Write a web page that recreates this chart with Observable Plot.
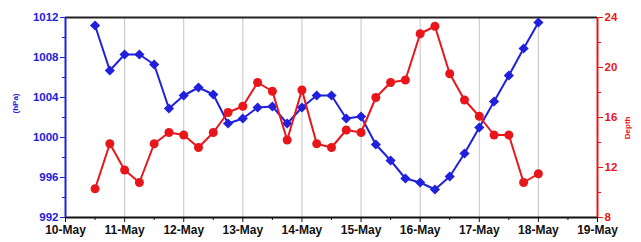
<!DOCTYPE html>
<html>
<head>
<meta charset="utf-8">
<script src="https://cdn.jsdelivr.net/npm/d3@7"></script>
<script src="https://cdn.jsdelivr.net/npm/@observablehq/plot@0.6"></script>
<style>
  html, body { margin: 0; padding: 0; background: #fff; }
  #chart { width: 641px; height: 242px; }
  #chart svg text { font-weight: bold; }
</style>
</head>
<body>
<div id="chart"></div>
<script>
// Time in days of May (6-hourly)
const times = [10.5, 10.75, 11, 11.25, 11.5, 11.75, 12, 12.25, 12.5, 12.75,
               13, 13.25, 13.5, 13.75, 14, 14.25, 14.5, 14.75, 15, 15.25,
               15.5, 15.75, 16, 16.25, 16.5, 16.75, 17, 17.25, 17.5, 17.75, 18];
// Pressure (hPa), left axis
const pressure = [1011.2, 1006.7, 1008.3, 1008.3, 1007.3, 1002.9, 1004.2, 1005.0, 1004.3, 1001.4,
                  1001.9, 1003.0, 1003.1, 1001.4, 1003.0, 1004.2, 1004.2, 1001.9, 1002.1, 999.3,
                  997.7, 995.9, 995.5, 994.8, 996.1, 998.4, 1001.0, 1003.6, 1006.2, 1008.9, 1011.5];
// Depth, right axis
const depth = [10.3, 13.9, 11.8, 10.8, 13.9, 14.8, 14.6, 13.6, 14.8, 16.4,
               16.9, 18.8, 18.1, 14.2, 18.2, 13.9, 13.6, 15.0, 14.8, 17.6,
               18.8, 19.0, 22.7, 23.3, 19.5, 17.4, 16.1, 14.6, 14.6, 10.8, 11.5];
// Axis ticks
const dayTicks = [10, 11, 12, 13, 14, 15, 16, 17, 18, 19];
const dayLabels = ["10-May", "11-May", "12-May", "13-May", "14-May", "15-May", "16-May", "17-May", "18-May", "19-May"];
const pressureTicks = [992, 996, 1000, 1004, 1008, 1012];
const depthTicks = [8, 12, 16, 20, 24];

const BLUE = "#2020dd";
const RED = "#e8161b";
const pMin = 992, pMax = 1012, dMin = 8, dMax = 24;
// map depth onto the pressure scale (shared y)
const d2p = d => pMin + (d - dMin) * (pMax - pMin) / (dMax - dMin);
const p2d = p => dMin + (p - pMin) * (dMax - dMin) / (pMax - pMin);

const pData = times.map((t, i) => ({t, v: pressure[i]}));
const dData = times.map((t, i) => ({t, v: d2p(depth[i])}));

const halfDays = dayTicks.slice(0, -1).map(d => d + 0.5);
const minorP = pressureTicks.slice(0, -1).map(p => p + 2);
const minorD = depthTicks.slice(0, -1).map(d => d2p(d + 2));

const chart = Plot.plot({
  width: 641,
  height: 242,
  marginLeft: 65,
  marginRight: 44,
  marginTop: 17,
  marginBottom: 25,
  style: {fontFamily: "'Liberation Sans', Arial, sans-serif", fontSize: "11px", fontWeight: "bold", background: "#fff"},
  x: {domain: [10, 19]},
  y: {domain: [pMin, pMax]},
  marks: [
    Plot.ruleX(dayTicks.slice(1, -1), {stroke: "#c4c4c4", strokeWidth: 1}),
    // left axis
    Plot.axisY({ticks: pressureTicks, tickFormat: p => String(p), tickSize: 5, color: BLUE, tickPadding: 2, label: null, fontSize: 11.5, fontWeight: "bold"}),
    Plot.axisY({ticks: minorP, tickSize: 3, color: BLUE, text: null, label: null}),
    // right axis
    Plot.axisY({anchor: "right", ticks: depthTicks.map(d2p), tickFormat: p => String(Math.round(p2d(p))), tickSize: 5, color: RED, tickPadding: 2, label: null, fontSize: 11.5, fontWeight: "bold"}),
    Plot.axisY({anchor: "right", ticks: minorD, tickSize: 3, color: RED, text: null, label: null}),
    // bottom axis
    Plot.axisX({ticks: dayTicks, tickFormat: d => dayLabels[dayTicks.indexOf(d)], tickSize: 5, tickPadding: 3, color: "#111", label: null, fontSize: 12, fontWeight: "bold"}),
    Plot.axisX({ticks: halfDays, tickSize: 3, text: null, color: "#111", label: null}),
    // frame lines
    Plot.ruleY([pMax], {stroke: "#222", strokeWidth: 2}),
    Plot.ruleY([pMin], {stroke: "#111", strokeWidth: 2}),
    Plot.ruleX([10], {stroke: BLUE, strokeWidth: 2}),
    Plot.ruleX([19], {stroke: RED, strokeWidth: 2}),
    // series
    Plot.line(pData, {x: "t", y: "v", stroke: BLUE, strokeWidth: 2}),
    Plot.dot(pData, {x: "t", y: "v", symbol: "diamond2", r: 4.6, fill: BLUE, stroke: "none"}),
    Plot.line(dData, {x: "t", y: "v", stroke: RED, strokeWidth: 2}),
    Plot.dot(dData, {x: "t", y: "v", symbol: "circle", r: 4.5, fill: RED, stroke: "none"}),
    // axis titles
    Plot.text(["(hPa)"], {frameAnchor: "left", dx: -50, dy: -4, rotate: -90, fill: BLUE, fontSize: 8, fontWeight: "bold"}),
    Plot.text(["Depth"], {frameAnchor: "right", dx: 30, dy: -1, rotate: -90, fill: RED, fontSize: 8, fontWeight: "bold"})
  ]
});
document.getElementById("chart").appendChild(chart);
</script>
</body>
</html>
